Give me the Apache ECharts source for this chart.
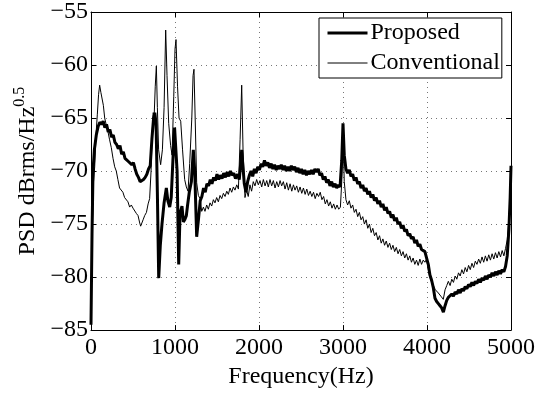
<!DOCTYPE html>
<html><head><meta charset="utf-8">
<script src="https://cdn.jsdelivr.net/npm/echarts@6/dist/echarts.min.js"></script>
<style>html,body{margin:0;padding:0;background:#fff}#c{width:543px;height:394px}</style>
</head><body><div id="c"></div>
<script>
const xTicks = [0, 1000, 2000, 3000, 4000, 5000];
const yTicks = [-85, -80, -75, -70, -65, -60, -55];
const seriesNames = ['Proposed', 'Conventional'];

const propFreq = [0,12,24,40,63,85,105,125,145,165,185,205,225,245,265,285,305,325,345,365,385,405,425,445,465,485,505,525,545,565,585,605,625,645,665,685,705,725,745,760,775,790,806,825,845,870,897,915,937,955,975,995,1010,1025,1044,1060,1083,1100,1115,1135,1150,1170,1195,1218,1235,1258,1280,1300,1320,1340,1360,1380,1400,1420,1440,1460,1480,1500,1520,1540,1560,1580,1600,1620,1640,1660,1680,1700,1720,1745,1765,1780,1794,1808,1825,1845,1865,1885,1905,1925,1945,1965,1985,2005,2025,2045,2065,2085,2105,2125,2145,2165,2185,2205,2225,2245,2265,2285,2305,2325,2345,2365,2385,2405,2425,2445,2465,2485,2505,2525,2545,2565,2585,2605,2625,2645,2665,2685,2705,2725,2745,2765,2785,2805,2825,2845,2865,2885,2905,2925,2945,2965,2985,3000,3015,3035,3055,3075,3095,3115,3135,3155,3175,3195,3215,3235,3255,3275,3295,3315,3335,3355,3375,3395,3415,3435,3455,3475,3495,3515,3535,3555,3575,3595,3615,3635,3655,3675,3695,3715,3735,3755,3775,3795,3815,3835,3855,3875,3895,3915,3935,3955,3975,3995,4015,4035,4055,4075,4095,4115,4135,4155,4175,4195,4215,4235,4255,4275,4295,4315,4335,4355,4375,4395,4415,4435,4455,4475,4495,4515,4535,4555,4575,4595,4615,4635,4655,4675,4695,4715,4735,4755,4775,4795,4815,4835,4855,4875,4895,4915,4935,4955,4975,4990,5000];
const propVal = [-84.5,-76,-70,-68,-66.6,-65.8,-65.4,-65.6,-65.3,-65.9,-65.6,-66.3,-66.1,-66.8,-66.6,-67.3,-67.5,-67.9,-67.6,-68.4,-68.2,-68.8,-68.7,-69.1,-69.0,-69.4,-69.2,-69.8,-70.3,-70.6,-71.0,-71.1,-70.8,-70.6,-70.3,-69.8,-69.5,-67.0,-65.0,-64.5,-65.6,-72,-80.1,-77,-75,-73,-71.6,-72.8,-73.4,-72.5,-69,-65.9,-66.0,-70,-78.8,-74,-73.3,-74.8,-74.6,-74.2,-73.2,-72.0,-71.0,-68.0,-70,-76.2,-74.5,-72.8,-72.4,-71.6,-72.0,-71.2,-71.4,-70.8,-71.2,-70.6,-70.9,-70.3,-70.8,-70.4,-70.7,-70.2,-70.6,-70.1,-70.5,-70.0,-70.4,-70.2,-70.7,-70.3,-70.8,-69.5,-68.0,-69.5,-71.2,-72.0,-71.0,-70.4,-70.0,-70.5,-69.8,-70.2,-69.6,-69.9,-69.3,-69.6,-69.0,-69.5,-69.2,-69.7,-69.3,-69.8,-69.4,-69.9,-69.5,-69.8,-69.4,-69.9,-69.5,-70.0,-69.6,-70.0,-69.5,-69.9,-69.6,-70.1,-69.7,-70.2,-69.8,-70.3,-69.9,-70.4,-70.0,-70.3,-69.9,-70.3,-69.8,-70.1,-69.8,-70.4,-70.2,-70.8,-70.5,-71.1,-70.8,-71.4,-71.0,-71.5,-71.2,-71.6,-71.3,-71.5,-69,-65.5,-68.5,-69.8,-70.2,-69.9,-70.5,-70.3,-70.9,-70.6,-71.2,-71.0,-71.6,-71.3,-71.9,-71.6,-72.2,-71.9,-72.5,-72.2,-72.8,-72.5,-73.1,-72.8,-73.4,-73.1,-73.7,-73.4,-74.0,-73.8,-74.4,-74.1,-74.7,-74.4,-75.0,-74.8,-75.4,-75.1,-75.7,-75.5,-76.1,-75.9,-76.4,-76.2,-76.8,-76.5,-77.1,-76.9,-77.4,-77.3,-77.6,-77.7,-78.8,-79.8,-80.3,-81.0,-82.0,-82.3,-82.5,-82.7,-82.9,-83.3,-82.7,-82.2,-81.9,-82.0,-81.6,-81.8,-81.4,-81.6,-81.2,-81.5,-81.1,-81.3,-80.9,-81.1,-80.7,-80.9,-80.5,-80.8,-80.4,-80.6,-80.2,-80.5,-80.1,-80.3,-79.9,-80.2,-79.8,-80.0,-79.6,-79.9,-79.5,-79.8,-79.4,-79.7,-79.3,-79.5,-79.0,-78.0,-75.5,-72.5,-69.5];

const convFreq = [0,15,30,44,60,75,90,103,118,131,147,163,180,200,220,242,262,282,301,320,340,361,380,400,420,440,460,480,500,520,540,560,580,591,605,620,639,660,680,698,715,728,740,752,765,778,790,805,829,850,870,889,905,925,948,965,985,1000,1012,1030,1048,1068,1090,1115,1135,1155,1175,1200,1215,1226,1240,1258,1278,1298,1318,1338,1357,1377,1397,1417,1437,1457,1476,1496,1516,1536,1556,1576,1596,1616,1635,1655,1675,1695,1714,1735,1755,1775,1794,1810,1833,1852,1872,1892,1912,1932,1952,1972,1992,2012,2032,2052,2072,2092,2111,2131,2151,2171,2191,2211,2231,2251,2270,2290,2310,2330,2350,2370,2390,2410,2429,2449,2469,2489,2509,2529,2549,2569,2589,2609,2629,2649,2669,2689,2709,2729,2749,2769,2789,2809,2829,2849,2869,2889,2909,2929,2949,2969,2985,3000,3015,3035,3055,3075,3095,3115,3135,3155,3175,3195,3215,3235,3255,3275,3295,3315,3335,3355,3375,3395,3415,3435,3455,3475,3495,3515,3535,3555,3575,3595,3615,3635,3655,3675,3695,3715,3735,3755,3775,3795,3815,3835,3855,3875,3895,3915,3935,3955,3975,3996,4020,4045,4075,4100,4135,4165,4194,4215,4235,4254,4275,4295,4315,4335,4355,4375,4395,4415,4435,4455,4475,4495,4515,4535,4555,4575,4595,4615,4635,4655,4675,4695,4715,4735,4755,4775,4795,4815,4835,4855,4875,4895,4915,4935,4955,4975,4990,5000];
const convVal = [-84,-76,-71,-69.6,-66.5,-64.7,-62.8,-61.9,-62.6,-62.5,-63.8,-65.0,-65.6,-66.2,-67.0,-67.8,-68.8,-69.6,-70.0,-70.8,-71.6,-71.7,-72.0,-72.5,-72.4,-72.9,-73.4,-73.2,-73.5,-73.6,-74.0,-74.2,-74.9,-75.2,-75.1,-74.6,-74.2,-73.9,-73.1,-72.6,-70,-66.5,-64.5,-64.8,-62,-60.1,-64,-68,-69.4,-68,-64,-56.7,-61,-65.5,-67.6,-68.5,-63,-58.5,-57.6,-62,-65.0,-65.3,-68,-70.8,-71.5,-71.9,-69.3,-65,-61,-60.4,-65,-71.1,-72.3,-72.6,-73.8,-73.4,-73.8,-73.2,-73.6,-73.0,-73.3,-72.7,-73.0,-72.5,-72.9,-72.3,-72.6,-72.1,-72.4,-71.9,-72.2,-71.6,-72.0,-71.5,-71.8,-71.3,-71.7,-67,-61.9,-68,-72.5,-71.8,-72.4,-71.3,-71.9,-71.0,-71.4,-70.8,-71.3,-70.9,-71.5,-70.8,-71.4,-70.9,-71.5,-70.8,-71.4,-70.9,-71.6,-71.0,-71.5,-70.9,-71.4,-71.0,-71.7,-71.1,-71.8,-71.2,-71.9,-71.3,-71.8,-71.4,-72.0,-71.5,-72.1,-71.6,-72.2,-71.7,-72.3,-71.9,-72.4,-72.0,-72.6,-72.1,-72.4,-72.0,-72.7,-72.4,-73.1,-72.7,-73.3,-72.9,-73.5,-73.1,-73.6,-73.2,-73.6,-73.4,-71,-66.5,-71,-72.7,-73.2,-72.8,-73.5,-73.2,-73.9,-73.6,-74.3,-73.9,-74.6,-74.3,-75.0,-74.6,-75.4,-75.0,-75.8,-75.4,-76.1,-75.8,-76.5,-76.1,-76.8,-76.4,-77.0,-76.6,-77.2,-76.8,-77.4,-77.0,-77.6,-77.2,-77.8,-77.4,-78.0,-77.6,-78.2,-77.8,-78.4,-78.0,-78.6,-78.2,-78.8,-78.4,-78.9,-78.3,-78.8,-78.4,-78.6,-78.3,-79.5,-80.3,-80.8,-81.2,-81.5,-81.8,-82.1,-81.2,-80.8,-80.4,-80.8,-80.2,-80.5,-79.9,-80.2,-79.6,-79.9,-79.3,-79.7,-79.1,-79.5,-78.9,-79.3,-78.7,-79.1,-78.5,-78.8,-78.3,-78.7,-78.1,-78.6,-78.0,-78.5,-77.9,-78.4,-77.8,-78.3,-77.7,-78.2,-77.6,-78.1,-77.5,-78.0,-77.3,-76.5,-74.5,-72.5,-70];

const FONT = 'Liberation Serif';
const FS = 24;
const pair = (fs, vs) => fs.map((f, i) => [f, vs[i]]);
const fmtY = v => String(v).replace('-', '\u2212');
const fmtX = v => String(v);

const chart = echarts.init(document.getElementById('c'));
const baseX = {type: 'value', min: xTicks[0], max: xTicks[xTicks.length - 1], interval: 1000};
const baseY = {type: 'value', min: yTicks[0], max: yTicks[yTicks.length - 1], interval: 5};
chart.setOption({
  animation: false,
  backgroundColor: '#fff',
  grid: {left: 91, right: 32, top: 11, bottom: 56, show: false},
  legend: {
    orient: 'vertical', left: 319, top: 18,
    data: [
      {name: seriesNames[0], lineStyle: {color: '#000', width: 3}},
      {name: seriesNames[1], lineStyle: {color: '#000', width: 1}}
    ],
    backgroundColor: '#fff', borderColor: '#000', borderWidth: 1,
    padding: [3, 2, 3, 7], itemGap: 6, itemWidth: 40, itemHeight: 22,
    itemStyle: {color: 'rgba(0,0,0,0)', borderColor: 'rgba(0,0,0,0)', borderWidth: 0},
    textStyle: {fontFamily: FONT, fontSize: FS, color: '#000', lineHeight: 22, padding: [0, 0, 0, -2]}
  },
  xAxis: [
    Object.assign({}, baseX, {
      position: 'bottom',
      name: 'Frequency(Hz)', nameLocation: 'middle', nameGap: 30,
      nameTextStyle: {fontFamily: FONT, fontSize: FS, color: '#000'},
      axisLine: {show: true, onZero: false, lineStyle: {color: '#000', width: 1}},
      axisTick: {show: true, inside: true, length: 5, lineStyle: {color: '#000'}},
      axisLabel: {fontFamily: FONT, fontSize: FS, color: '#000', margin: 6, formatter: fmtX},
      splitLine: {show: true, lineStyle: {color: '#777', type: [1, 4], width: 1}}
    }),
    Object.assign({}, baseX, {
      position: 'top',
      axisLine: {show: true, onZero: false, lineStyle: {color: '#000', width: 1}},
      axisTick: {show: true, inside: true, length: 5, lineStyle: {color: '#000'}},
      axisLabel: {show: false}, splitLine: {show: false}
    })
  ],
  yAxis: [
    Object.assign({}, baseY, {
      position: 'left',
      name: 'PSD dBrms/Hz{sup|0.5}', nameLocation: 'middle', nameGap: 46,
      nameTextStyle: {fontFamily: FONT, fontSize: FS, color: '#000',
        rich: {sup: {fontFamily: FONT, fontSize: 16, color: '#000', padding: [0, 0, 16, 0]}}},
      axisLine: {show: true, onZero: false, lineStyle: {color: '#000', width: 1}},
      axisTick: {show: true, inside: true, length: 5, lineStyle: {color: '#000'}},
      axisLabel: {fontFamily: FONT, fontSize: FS, color: '#000', margin: 3, formatter: fmtY},
      splitLine: {show: true, lineStyle: {color: '#777', type: [1, 4], width: 1}}
    }),
    Object.assign({}, baseY, {
      position: 'right',
      axisLine: {show: true, onZero: false, lineStyle: {color: '#000', width: 1}},
      axisTick: {show: true, inside: true, length: 5, lineStyle: {color: '#000'}},
      axisLabel: {show: false}, splitLine: {show: false}
    })
  ],
  series: [
    {name: seriesNames[0], type: 'line', xAxisIndex: 0, yAxisIndex: 0, data: pair(propFreq, propVal),
     showSymbol: false, symbol: 'none', lineStyle: {color: '#000', width: 3}, itemStyle: {color: '#000'}, z: 3},
    {name: seriesNames[1], type: 'line', xAxisIndex: 0, yAxisIndex: 0, data: pair(convFreq, convVal),
     showSymbol: false, symbol: 'none', lineStyle: {color: '#000', width: 1}, itemStyle: {color: '#000'}, z: 2}
  ]
});
</script>
</body></html>
